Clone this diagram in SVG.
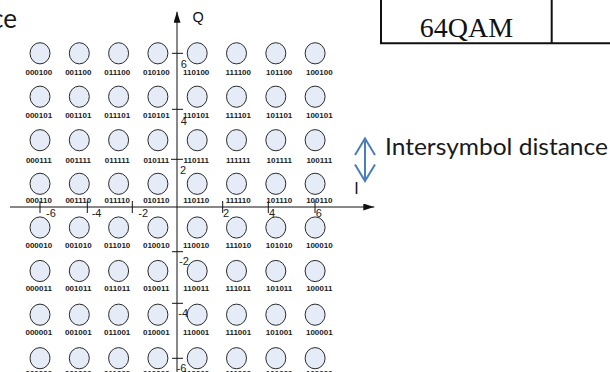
<svg xmlns="http://www.w3.org/2000/svg" width="610" height="372" viewBox="0 0 610 372">
<style>
.pt ellipse{fill:#E6ECF7;stroke:#2a2a2a;stroke-width:1}
.pt text{font-family:"Liberation Sans",Arial,sans-serif;font-size:8px;font-weight:bold;fill:#1a1a1a;text-anchor:middle}
.ax{stroke:#111;stroke-width:1;fill:none}
.tk{font-family:"Liberation Sans",Arial,sans-serif;font-size:11px;fill:#222}
.blue{stroke:#4A7EBB;stroke-width:2;fill:none}
</style>
<defs>
<marker id="ah" markerUnits="userSpaceOnUse" markerWidth="11" markerHeight="7" refX="11" refY="3.5" orient="auto">
<path d="M0,0 L11,3.5 L0,7 z" fill="#111"/>
</marker>
</defs>
<g id="table">
<path d="M381,0 V43.3 H610 M551.7,0 V43.3" stroke="#111" stroke-width="2" fill="none"/>
<text x="466.5" y="36.7" font-family="Liberation Serif,Times New Roman,serif" font-size="28" text-anchor="middle" fill="#111">64QAM</text>
</g>
<g id="title-fragment">
<text x="17" y="27.5" font-family="Lato,'Open Sans',sans-serif" font-size="26" text-anchor="end" fill="#1a1a1a">ce</text>
</g>
<g id="axes">
<line class="ax" x1="177" y1="372" x2="177" y2="11.7" marker-end="url(#ah)"/>
<line class="ax" x1="10" y1="207" x2="374.3" y2="207" marker-end="url(#ah)"/>
<path class="ax" d="M172,53.3 H183 M172,109.3 H183 M171,159.3 H183 M172,251.7 H183 M172,303.3 H183 M172,358.3 H183"/>
<path class="ax" d="M40,201 V213 M87.3,201 V213 M132.3,201 V213 M222.7,201 V213 M268.3,201 V213 M315,201 V213"/>
<text class="tk" x="180.7" y="68">6</text>
<text class="tk" x="180.7" y="125">4</text>
<text class="tk" x="180" y="173.5">2</text>
<text class="tk" x="179" y="265">-2</text>
<text class="tk" x="178.3" y="317">-4</text>
<text class="tk" x="176.7" y="371.7">-6</text>
<text class="tk" x="46" y="217">-6</text>
<text class="tk" x="91.7" y="217">-4</text>
<text class="tk" x="138.3" y="217">-2</text>
<text class="tk" x="223" y="217">2</text>
<text class="tk" x="269" y="217">4</text>
<text class="tk" x="315.7" y="217">6</text>
<text x="192.5" y="22" font-family="Liberation Sans,Arial,sans-serif" font-size="14.5" fill="#111">Q</text>
<text x="354.3" y="194.3" font-family="Liberation Sans,Arial,sans-serif" font-size="16" fill="#111">I</text>
</g>
<g id="connectors">
<line class="blue" x1="365" y1="139" x2="365" y2="180.5"/>
<polyline class="blue" points="355,155 365,138.5 375,155"/>
<polyline class="blue" points="355,164.5 365,181 375,164.5"/>
</g>
<g id="legend">
<text x="385" y="155" font-family="Lato,'Open Sans',sans-serif" font-size="23" textLength="223" lengthAdjust="spacingAndGlyphs" fill="#1a1a1a">Intersymbol distance</text>
</g>
<g id="points">
<g class="pt" id="p000100"><ellipse cx="40" cy="53.3" rx="10" ry="10.6"/><text x="38.8" y="75">000100</text></g>
<g class="pt" id="p001100"><ellipse cx="79.3" cy="53.3" rx="10" ry="10.6"/><text x="78.3" y="75">001100</text></g>
<g class="pt" id="p011100"><ellipse cx="118.6" cy="53.3" rx="10" ry="10.6"/><text x="117.2" y="75">011100</text></g>
<g class="pt" id="p010100"><ellipse cx="157.9" cy="53.3" rx="10" ry="10.6"/><text x="156.3" y="75">010100</text></g>
<g class="pt" id="p110100"><ellipse cx="197.2" cy="53.3" rx="10" ry="10.6"/><text x="196.2" y="75">110100</text></g>
<g class="pt" id="p111100"><ellipse cx="236.5" cy="53.3" rx="10" ry="10.6"/><text x="238.3" y="75">111100</text></g>
<g class="pt" id="p101100"><ellipse cx="275.8" cy="53.3" rx="10" ry="10.6"/><text x="279.2" y="75">101100</text></g>
<g class="pt" id="p100100"><ellipse cx="315.1" cy="53.3" rx="10" ry="10.6"/><text x="319.3" y="75">100100</text></g>

<g class="pt" id="p000101"><ellipse cx="40" cy="96.7" rx="10" ry="10.6"/><text x="38.8" y="118.3">000101</text></g>
<g class="pt" id="p001101"><ellipse cx="79.3" cy="96.7" rx="10" ry="10.6"/><text x="78.3" y="118.3">001101</text></g>
<g class="pt" id="p011101"><ellipse cx="118.6" cy="96.7" rx="10" ry="10.6"/><text x="117.2" y="118.3">011101</text></g>
<g class="pt" id="p010101"><ellipse cx="157.9" cy="96.7" rx="10" ry="10.6"/><text x="156.3" y="118.3">010101</text></g>
<g class="pt" id="p110101"><ellipse cx="197.2" cy="96.7" rx="10" ry="10.6"/><text x="196.2" y="118.3">110101</text></g>
<g class="pt" id="p111101"><ellipse cx="236.5" cy="96.7" rx="10" ry="10.6"/><text x="238.3" y="118.3">111101</text></g>
<g class="pt" id="p101101"><ellipse cx="275.8" cy="96.7" rx="10" ry="10.6"/><text x="279.2" y="118.3">101101</text></g>
<g class="pt" id="p100101"><ellipse cx="315.1" cy="96.7" rx="10" ry="10.6"/><text x="319.3" y="118.3">100101</text></g>

<g class="pt" id="p000111"><ellipse cx="40" cy="140.2" rx="10" ry="10.6"/><text x="38.8" y="162.7">000111</text></g>
<g class="pt" id="p001111"><ellipse cx="79.3" cy="140.2" rx="10" ry="10.6"/><text x="78.3" y="162.7">001111</text></g>
<g class="pt" id="p011111"><ellipse cx="118.6" cy="140.2" rx="10" ry="10.6"/><text x="117.2" y="162.7">011111</text></g>
<g class="pt" id="p010111"><ellipse cx="157.9" cy="140.2" rx="10" ry="10.6"/><text x="156.3" y="162.7">010111</text></g>
<g class="pt" id="p110111"><ellipse cx="197.2" cy="140.2" rx="10" ry="10.6"/><text x="196.2" y="162.7">110111</text></g>
<g class="pt" id="p111111"><ellipse cx="236.5" cy="140.2" rx="10" ry="10.6"/><text x="238.3" y="162.7">111111</text></g>
<g class="pt" id="p101111"><ellipse cx="275.8" cy="140.2" rx="10" ry="10.6"/><text x="279.2" y="162.7">101111</text></g>
<g class="pt" id="p100111"><ellipse cx="315.1" cy="140.2" rx="10" ry="10.6"/><text x="319.3" y="162.7">100111</text></g>

<g class="pt" id="p000110"><ellipse cx="40" cy="183.8" rx="10" ry="10.6"/><text x="38.8" y="203.3">000110</text></g>
<g class="pt" id="p001110"><ellipse cx="79.3" cy="183.8" rx="10" ry="10.6"/><text x="78.3" y="203.3">001110</text></g>
<g class="pt" id="p011110"><ellipse cx="118.6" cy="183.8" rx="10" ry="10.6"/><text x="117.2" y="203.3">011110</text></g>
<g class="pt" id="p010110"><ellipse cx="157.9" cy="183.8" rx="10" ry="10.6"/><text x="156.3" y="203.3">010110</text></g>
<g class="pt" id="p110110"><ellipse cx="197.2" cy="183.8" rx="10" ry="10.6"/><text x="196.2" y="203.3">110110</text></g>
<g class="pt" id="p111110"><ellipse cx="236.5" cy="183.8" rx="10" ry="10.6"/><text x="238.3" y="203.3">111110</text></g>
<g class="pt" id="p101110"><ellipse cx="275.8" cy="183.8" rx="10" ry="10.6"/><text x="279.2" y="203.3">101110</text></g>
<g class="pt" id="p100110"><ellipse cx="315.1" cy="183.8" rx="10" ry="10.6"/><text x="319.3" y="203.3">100110</text></g>

<g class="pt" id="p000010"><ellipse cx="40" cy="227.5" rx="10" ry="10.6"/><text x="38.8" y="247.7">000010</text></g>
<g class="pt" id="p001010"><ellipse cx="79.3" cy="227.5" rx="10" ry="10.6"/><text x="78.3" y="247.7">001010</text></g>
<g class="pt" id="p011010"><ellipse cx="118.6" cy="227.5" rx="10" ry="10.6"/><text x="117.2" y="247.7">011010</text></g>
<g class="pt" id="p010010"><ellipse cx="157.9" cy="227.5" rx="10" ry="10.6"/><text x="156.3" y="247.7">010010</text></g>
<g class="pt" id="p110010"><ellipse cx="197.2" cy="227.5" rx="10" ry="10.6"/><text x="196.2" y="247.7">110010</text></g>
<g class="pt" id="p111010"><ellipse cx="236.5" cy="227.5" rx="10" ry="10.6"/><text x="238.3" y="247.7">111010</text></g>
<g class="pt" id="p101010"><ellipse cx="275.8" cy="227.5" rx="10" ry="10.6"/><text x="279.2" y="247.7">101010</text></g>
<g class="pt" id="p100010"><ellipse cx="315.1" cy="227.5" rx="10" ry="10.6"/><text x="319.3" y="247.7">100010</text></g>

<g class="pt" id="p000011"><ellipse cx="40" cy="271" rx="10" ry="10.6"/><text x="38.8" y="290.7">000011</text></g>
<g class="pt" id="p001011"><ellipse cx="79.3" cy="271" rx="10" ry="10.6"/><text x="78.3" y="290.7">001011</text></g>
<g class="pt" id="p011011"><ellipse cx="118.6" cy="271" rx="10" ry="10.6"/><text x="117.2" y="290.7">011011</text></g>
<g class="pt" id="p010011"><ellipse cx="157.9" cy="271" rx="10" ry="10.6"/><text x="156.3" y="290.7">010011</text></g>
<g class="pt" id="p110011"><ellipse cx="197.2" cy="271" rx="10" ry="10.6"/><text x="196.2" y="290.7">110011</text></g>
<g class="pt" id="p111011"><ellipse cx="236.5" cy="271" rx="10" ry="10.6"/><text x="238.3" y="290.7">111011</text></g>
<g class="pt" id="p101011"><ellipse cx="275.8" cy="271" rx="10" ry="10.6"/><text x="279.2" y="290.7">101011</text></g>
<g class="pt" id="p100011"><ellipse cx="315.1" cy="271" rx="10" ry="10.6"/><text x="319.3" y="290.7">100011</text></g>

<g class="pt" id="p000001"><ellipse cx="40" cy="314.7" rx="10" ry="10.6"/><text x="38.8" y="335">000001</text></g>
<g class="pt" id="p001001"><ellipse cx="79.3" cy="314.7" rx="10" ry="10.6"/><text x="78.3" y="335">001001</text></g>
<g class="pt" id="p011001"><ellipse cx="118.6" cy="314.7" rx="10" ry="10.6"/><text x="117.2" y="335">011001</text></g>
<g class="pt" id="p010001"><ellipse cx="157.9" cy="314.7" rx="10" ry="10.6"/><text x="156.3" y="335">010001</text></g>
<g class="pt" id="p110001"><ellipse cx="197.2" cy="314.7" rx="10" ry="10.6"/><text x="196.2" y="335">110001</text></g>
<g class="pt" id="p111001"><ellipse cx="236.5" cy="314.7" rx="10" ry="10.6"/><text x="238.3" y="335">111001</text></g>
<g class="pt" id="p101001"><ellipse cx="275.8" cy="314.7" rx="10" ry="10.6"/><text x="279.2" y="335">101001</text></g>
<g class="pt" id="p100001"><ellipse cx="315.1" cy="314.7" rx="10" ry="10.6"/><text x="319.3" y="335">100001</text></g>

<g class="pt" id="p000000"><ellipse cx="40" cy="358.2" rx="10" ry="10.6"/><text x="38.8" y="376">000000</text></g>
<g class="pt" id="p001000"><ellipse cx="79.3" cy="358.2" rx="10" ry="10.6"/><text x="78.3" y="376">001000</text></g>
<g class="pt" id="p011000"><ellipse cx="118.6" cy="358.2" rx="10" ry="10.6"/><text x="117.2" y="376">011000</text></g>
<g class="pt" id="p010000"><ellipse cx="157.9" cy="358.2" rx="10" ry="10.6"/><text x="156.3" y="376">010000</text></g>
<g class="pt" id="p110000"><ellipse cx="197.2" cy="358.2" rx="10" ry="10.6"/><text x="196.2" y="376">110000</text></g>
<g class="pt" id="p111000"><ellipse cx="236.5" cy="358.2" rx="10" ry="10.6"/><text x="238.3" y="376">111000</text></g>
<g class="pt" id="p101000"><ellipse cx="275.8" cy="358.2" rx="10" ry="10.6"/><text x="279.2" y="376">101000</text></g>
<g class="pt" id="p100000"><ellipse cx="315.1" cy="358.2" rx="10" ry="10.6"/><text x="319.3" y="376">100000</text></g>
</g>
</svg>
